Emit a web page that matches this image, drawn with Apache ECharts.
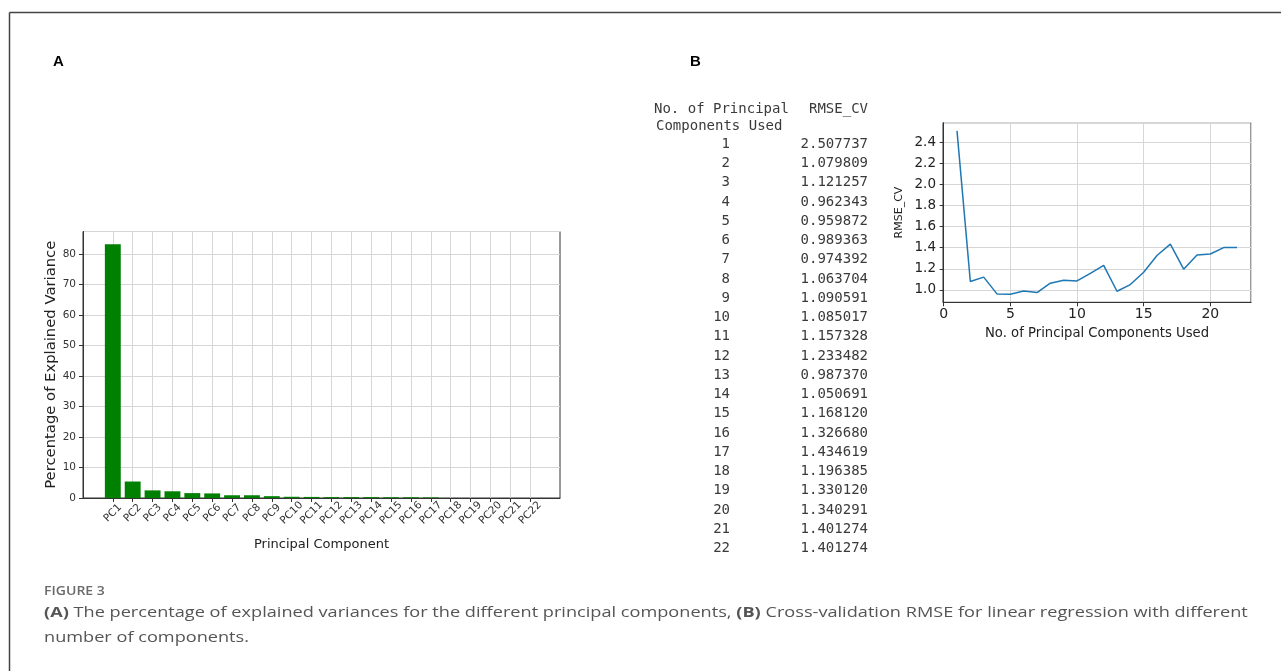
<!DOCTYPE html>
<html>
<head>
<meta charset="utf-8">
<script src="https://cdn.jsdelivr.net/npm/echarts@6/dist/echarts.min.js"></script>
<style>
html,body{margin:0;padding:0;background:#fff;}
#chart{width:1281px;height:671px;}
</style>
</head>
<body>
<div id="chart"></div>
<script>
// ---- Data ----
const pcLabels = ['PC1','PC2','PC3','PC4','PC5','PC6','PC7','PC8','PC9','PC10','PC11',
  'PC12','PC13','PC14','PC15','PC16','PC17','PC18','PC19','PC20','PC21','PC22'];
const explainedVariance = [83.1, 5.4, 2.5, 2.2, 1.6, 1.5, 0.9, 0.9, 0.6, 0.4, 0.35,
  0.3, 0.3, 0.3, 0.25, 0.25, 0.2, 0.02, 0.01, 0.01, 0.01, 0.01];
const nComponents = [1,2,3,4,5,6,7,8,9,10,11,12,13,14,15,16,17,18,19,20,21,22];
const rmseCV = [2.507737, 1.079809, 1.121257, 0.962343, 0.959872, 0.989363, 0.974392,
  1.063704, 1.090591, 1.085017, 1.157328, 1.233482, 0.987370, 1.050691, 1.168120,
  1.326680, 1.434619, 1.196385, 1.330120, 1.340291, 1.401274, 1.401274];
const tableHeader1 = ['No. of Principal', 'RMSE_CV'];
const tableHeader2 = 'Components Used';
const panelLabels = ['A', 'B'];
const figureLabel = 'FIGURE 3';
const captionLine1 = '{b|(A)} The percentage of explained variances for the different principal components, {b|(B)} Cross-validation RMSE for linear regression with different';
const captionLine2 = 'number of components.';

// ---- Build ----
const chart = echarts.init(document.getElementById('chart'), null, {renderer: 'canvas'});
const axisColor = '#333';
const gridColor = '#d6d6d6';
const plotFont = '"DejaVu Sans", sans-serif';
const monoFont = '"DejaVu Sans Mono", monospace';
const capFont = '"Open Sans", sans-serif';
const catData = [''].concat(pcLabels).concat([' ']);
const isInner = (i) => i > 0 && i < catData.length - 1;

// table graphics
const tableEls = [];
const rowY0 = 144.3, rowStep = 19.24;
const tStyle = {fontSize: 14, fontFamily: monoFont, fill: '#3a3a3a'};
tableEls.push({type: 'text', x: 654, y: 109, style: Object.assign({text: tableHeader1[0], align: 'left', verticalAlign: 'middle'}, tStyle)});
tableEls.push({type: 'text', x: 809, y: 109, style: Object.assign({text: tableHeader1[1], align: 'left', verticalAlign: 'middle'}, tStyle)});
tableEls.push({type: 'text', x: 656, y: 126.7, style: Object.assign({text: tableHeader2, align: 'left', verticalAlign: 'middle'}, tStyle)});
nComponents.forEach((n, i) => {
  tableEls.push({type: 'text', x: 730, y: rowY0 + i * rowStep,
    style: Object.assign({text: String(n), align: 'right', verticalAlign: 'middle'}, tStyle)});
  tableEls.push({type: 'text', x: 868, y: rowY0 + i * rowStep,
    style: Object.assign({text: rmseCV[i].toFixed(6), align: 'right', verticalAlign: 'middle'}, tStyle)});
});

const captionEls = [
  {type: 'text', x: 44, y: 592, scaleX: 1.17,
    style: {text: figureLabel, fontSize: 12, fontWeight: 600, fontFamily: capFont, fill: '#6a6a6a', align: 'left', verticalAlign: 'middle'}},
  {type: 'text', x: 44, y: 613, scaleX: 1.21,
    style: {text: captionLine1, fontSize: 15, fontFamily: capFont, fill: '#555', align: 'left', verticalAlign: 'middle',
      rich: {b: {fontSize: 15, fontWeight: 'bold', fontFamily: capFont, fill: '#555'}}}},
  {type: 'text', x: 44, y: 638, scaleX: 1.21,
    style: {text: captionLine2, fontSize: 15, fontFamily: capFont, fill: '#555', align: 'left', verticalAlign: 'middle'}}
];

const option = {
  animation: false,
  backgroundColor: '#fff',
  title: [
    {text: panelLabels[0], left: 48, top: 49, textStyle: {fontSize: 15, fontWeight: 'bold', color: '#000', fontFamily: '"Liberation Sans", Arial, sans-serif'}},
    {text: panelLabels[1], left: 685, top: 49, textStyle: {fontSize: 15, fontWeight: 'bold', color: '#000', fontFamily: '"Liberation Sans", Arial, sans-serif'}}
  ],
  graphic: [
    {type: 'line', shape: {x1: 9.5, y1: 12.5, x2: 1281, y2: 12.5}, style: {stroke: '#444', lineWidth: 1.5}},
    {type: 'line', shape: {x1: 9.5, y1: 12.5, x2: 9.5, y2: 671}, style: {stroke: '#444', lineWidth: 1.5}},
    {type: 'group', children: tableEls},
    {type: 'group', children: captionEls}
  ],
  grid: [
    {left: 83, top: 231.5, width: 477, height: 266.5, show: true, borderColor: axisColor, borderWidth: 1, backgroundColor: 'transparent', containLabel: false},
    {left: 943, top: 122.7, width: 308, height: 179.6, show: true, borderColor: axisColor, borderWidth: 1, backgroundColor: 'transparent', containLabel: false}
  ],
  xAxis: [
    {type: 'category', gridIndex: 0, data: catData, boundaryGap: true,
      name: 'Principal Component', nameLocation: 'middle', nameGap: 40,
      nameTextStyle: {fontSize: 13, color: '#222', fontFamily: plotFont},
      axisLine: {show: true, lineStyle: {color: axisColor}},
      axisTick: {show: true, alignWithLabel: true, length: 4, interval: (i) => isInner(i), lineStyle: {color: axisColor}},
      axisLabel: {interval: 0, rotate: 45, fontSize: 10.5, color: '#333', fontFamily: plotFont, margin: 15, align: 'center', verticalAlign: 'middle'},
      splitLine: {show: true, alignWithLabel: true, interval: (i) => isInner(i), lineStyle: {color: gridColor, width: 1}}
    },
    {type: 'value', gridIndex: 1, min: -0.05, max: 23.05,
      name: 'No. of Principal Components Used', nameLocation: 'middle', nameGap: 25,
      nameTextStyle: {fontSize: 13.2, color: '#222', fontFamily: plotFont},
      axisLine: {show: true, lineStyle: {color: axisColor}},
      axisTick: {show: true, length: 4, lineStyle: {color: axisColor}},
      axisLabel: {fontSize: 14, color: '#222', fontFamily: plotFont, margin: 5, showMinLabel: false, showMaxLabel: false},
      splitLine: {show: true, lineStyle: {color: gridColor, width: 1}}
    }
  ],
  yAxis: [
    {type: 'value', gridIndex: 0, min: 0, max: 87.3, interval: 10,
      name: 'Percentage of Explained Variance', nameLocation: 'middle', nameGap: 22,
      nameTextStyle: {fontSize: 14.8, color: '#222', fontFamily: plotFont},
      axisLine: {show: true, lineStyle: {color: axisColor}},
      axisTick: {show: true, length: 4, lineStyle: {color: axisColor}},
      axisLabel: {fontSize: 10.5, color: '#333', fontFamily: plotFont, margin: 7, showMaxLabel: false,
        formatter: (v) => (Math.abs(v % 10) < 1e-9 ? String(v) : '')},
      splitLine: {show: true, lineStyle: {color: gridColor, width: 1}}
    },
    {type: 'value', gridIndex: 1, min: 0.8826, max: 2.585, splitNumber: 8,
      name: 'RMSE_CV', nameLocation: 'middle', nameGap: 38,
      nameTextStyle: {fontSize: 11, color: '#222', fontFamily: plotFont},
      axisLine: {show: true, lineStyle: {color: axisColor}},
      axisTick: {show: true, length: 4, lineStyle: {color: axisColor}},
      axisLabel: {fontSize: 13.5, color: '#222', fontFamily: plotFont, margin: 7, showMinLabel: false, showMaxLabel: false,
        formatter: (v) => v.toFixed(1)},
      splitLine: {show: true, lineStyle: {color: gridColor, width: 1}}
    }
  ],
  series: [
    {type: 'bar', xAxisIndex: 0, yAxisIndex: 0, barWidth: '80%',
      itemStyle: {color: '#008000'},
      data: pcLabels.map((c, i) => [c, explainedVariance[i]])},
    {type: 'line', xAxisIndex: 1, yAxisIndex: 1, showSymbol: false, symbol: 'none',
      lineStyle: {color: '#1f77b4', width: 1.5},
      data: nComponents.map((n, i) => [n, rmseCV[i]])}
  ]
};
chart.setOption(option);
</script>
</body>
</html>
